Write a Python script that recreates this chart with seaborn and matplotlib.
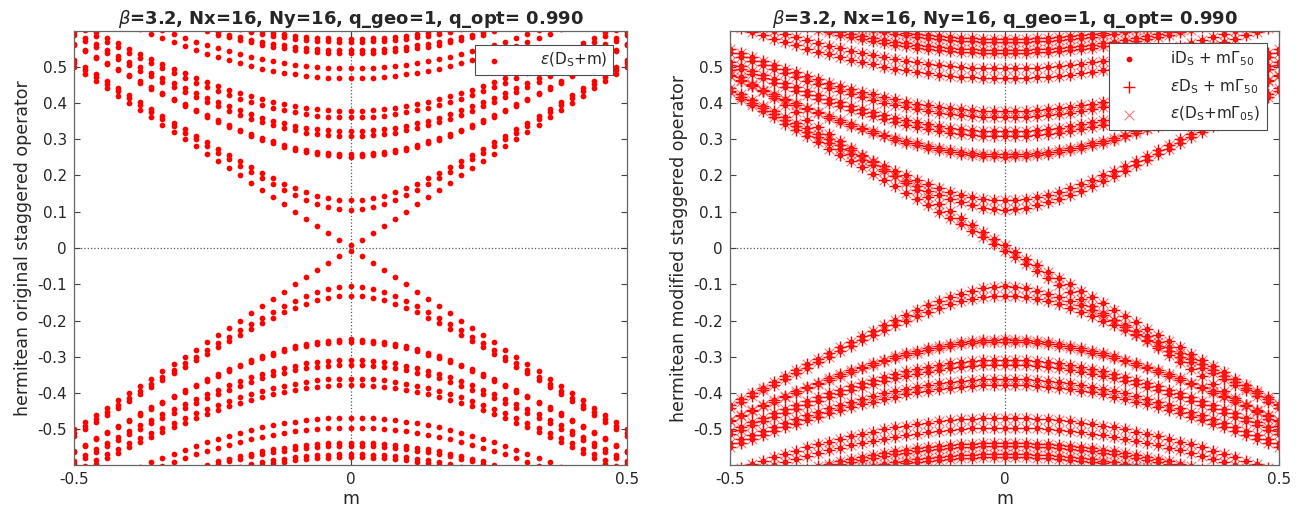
import numpy as np
import pandas as pd
import matplotlib
matplotlib.use('Agg')
import matplotlib.pyplot as plt
import seaborn as sns

# mass values of the scan
m_values = np.round(np.linspace(-0.5, 0.5, 51), 2)

# eigenvalues of eps*D_S at m=0 (positive half, spectrum is +/- symmetric)
lam_pos = [0.007, 0.106, 0.131, 0.252, 0.258, 0.308, 0.322,
           0.360, 0.377, 0.468, 0.495, 0.537, 0.545, 0.568, 0.576]

# modified operator: mass coupling and tilt of each branch
mod_coupling = [0.06, 0.84, 0.84, 0.80, 0.80, 0.80, 0.80,
                0.80, 0.80, 0.80, 0.80, 0.80, 0.80, 0.80, 0.80]
mod_tilt = [-0.92, 0.0, 0.0, 0.0, 0.0, 0.0, 0.0,
            0.0, 0.0, 0.0, 0.0, 0.0, 0.0, 0.0, 0.0]

title_txt = r'$\beta$=3.2, Nx=16, Ny=16, q_geo=1, q_opt= 0.990'
y_ticks = [-0.5, -0.4, -0.3, -0.2, -0.1, 0, 0.1, 0.2, 0.3, 0.4, 0.5]
x_ticks = [-0.5, 0, 0.5]


def build_flow(coupling, tilt):
    # H^2 = lam^2 + (c m)^2 for each +/- pair, shifted by the tilt
    rows = []
    for lam, c, t in zip(lam_pos, coupling, tilt):
        for sign in (1, -1):
            ev = sign * np.sqrt(lam ** 2 + (c * m_values) ** 2) + t * m_values
            rows.append(pd.DataFrame({'m': m_values, 'ev': ev}))
    return pd.concat(rows, ignore_index=True)


orig = build_flow([1.0] * len(lam_pos), [0.0] * len(lam_pos))
modif = build_flow(mod_coupling, mod_tilt)

sns.set_theme(style='white')
plt.rcParams['font.family'] = ['DejaVu Sans']
plt.rcParams['axes.unicode_minus'] = False
plt.rcParams['mathtext.fontset'] = 'dejavusans'

fig = plt.figure(figsize=(13.04, 5.12), dpi=100)
ax1 = fig.add_axes([74 / 1304, 47 / 512, 553 / 1304, 434 / 512])
ax2 = fig.add_axes([730 / 1304, 47 / 512, 549 / 1304, 434 / 512])

sns.scatterplot(data=orig, x='m', y='ev', ax=ax1, color='red', marker='o',
                s=17, linewidth=0, label=r'$\epsilon$(D$_\mathrm{S}$+m)')

sns.scatterplot(data=modif, x='m', y='ev', ax=ax2, color='red', marker='o',
                s=17, linewidth=0, label=r'iD$_\mathrm{S}$ + m$\Gamma_{50}$')
sns.scatterplot(data=modif, x='m', y='ev', ax=ax2, color='red', marker='+',
                s=70, linewidth=1.0, label=r'$\epsilon$D$_\mathrm{S}$ + m$\Gamma_{50}$')
sns.scatterplot(data=modif, x='m', y='ev', ax=ax2, color='#ff2a2a', marker='x',
                s=48, linewidth=0.8, alpha=0.65, label=r'$\epsilon$(D$_\mathrm{S}$+m$\Gamma_{05}$)')

for ax, ylab in [(ax1, 'hermitean original staggered operator'),
                 (ax2, 'hermitean modified staggered operator')]:
    ax.axhline(0, color='0.35', linestyle=':', linewidth=0.9, zorder=0)
    ax.axvline(0, color='0.35', linestyle=':', linewidth=0.9, zorder=0)
    ax.set_xlim(-0.5, 0.5)
    ax.set_ylim(-0.598, 0.598)
    ax.set_xticks(x_ticks)
    ax.set_xticklabels(['-0.5', '0', '0.5'])
    ax.set_yticks(y_ticks)
    ax.set_yticklabels(['%g' % v for v in y_ticks])
    ax.tick_params(direction='in', length=4, width=0.8, colors='0.25',
                   labelcolor='0.15', labelsize=11, top=True, right=True,
                   left=True, bottom=True, pad=5)
    for sp in ax.spines.values():
        sp.set_visible(True)
        sp.set_color('0.4')
        sp.set_linewidth(0.9)
    ax.set_xlabel('m', fontsize=12.5, color='0.15', labelpad=2)
    ax.set_ylabel(ylab, fontsize=12.5, color='0.15', labelpad=4)
    ax.set_title(title_txt, fontsize=13, fontweight='bold', pad=5)

leg1 = ax1.legend(loc='upper right', fontsize=11, frameon=True, fancybox=False,
                  framealpha=1, edgecolor='0.3', borderaxespad=0.9,
                  handlelength=1.6, handletextpad=2.2, markerscale=1.0)
leg1.get_frame().set_linewidth(0.8)
leg2 = ax2.legend(loc='upper right', fontsize=11, frameon=True, fancybox=False,
                  framealpha=1, edgecolor='0.3', borderaxespad=0.8,
                  handlelength=1.8, handletextpad=1.8, labelspacing=0.6)
leg2.get_frame().set_linewidth(0.8)

fig.savefig('out.png', dpi=100)
